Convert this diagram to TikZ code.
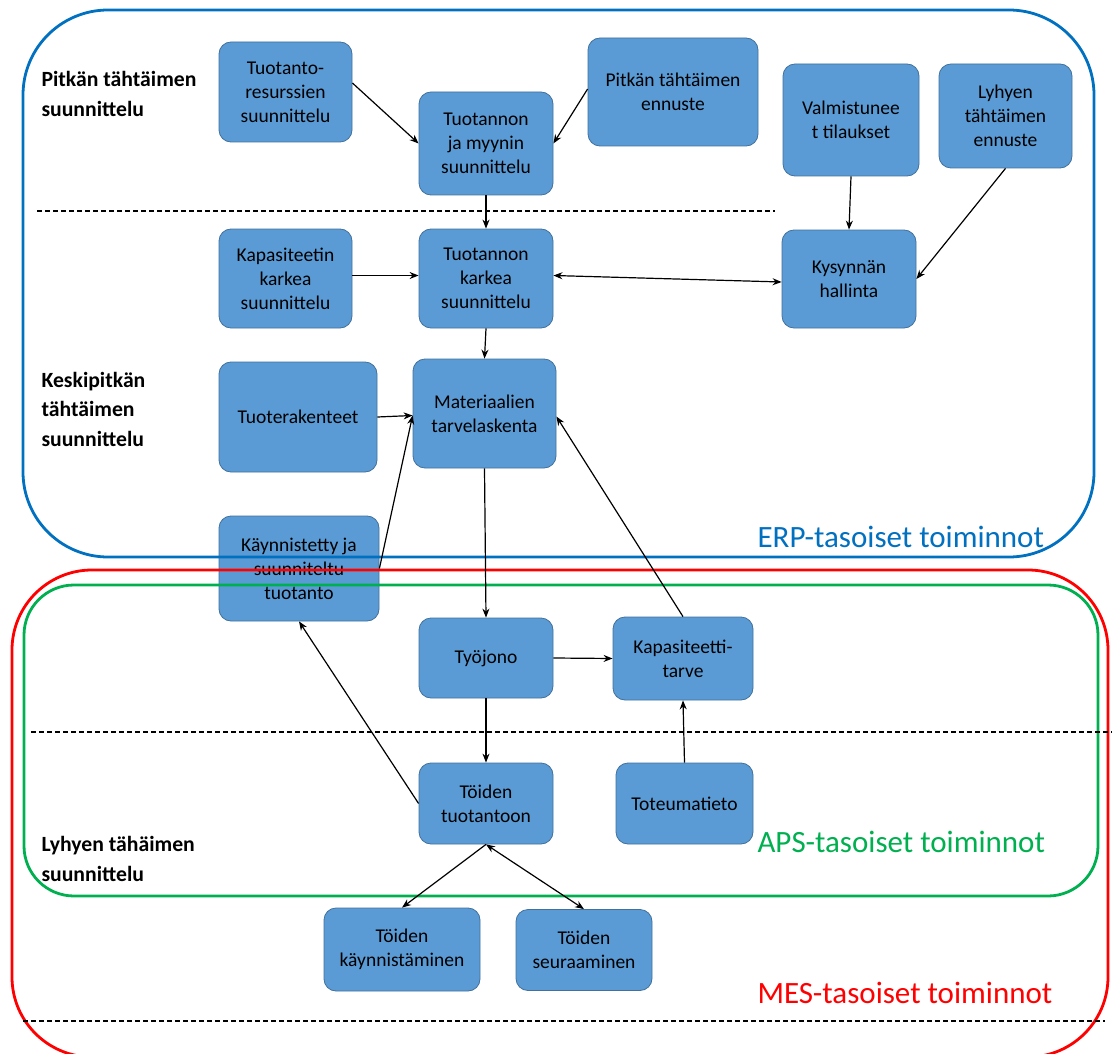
\documentclass[tikz,border=0pt]{standalone}
\usepackage{fontspec}
\setmainfont{Carlito}
\usepackage{xcolor}
\usetikzlibrary{arrows.meta}
\definecolor{boxblue}{HTML}{5B9BD5}
\definecolor{boxline}{HTML}{41719C}
\definecolor{erpblue}{HTML}{0070C0}
\definecolor{apsgreen}{HTML}{00B050}
\definecolor{mesred}{HTML}{FF0000}

\begin{document}
\begin{tikzpicture}[x=1pt,y=-1pt,
  >={Stealth[length=9pt,width=7pt]},
  box/.style={draw=boxline,line width=0.8pt,fill=boxblue,rounded corners=12pt,align=center,inner sep=2pt,
    font=\fontsize{19.5}{24}\selectfont},
  lvl/.style={anchor=west,align=left,font=\bfseries\fontsize{21.7}{29.5}\selectfont},
  frame/.style={line width=2.8pt},
  link/.style={line width=1.2pt},
  split/.style={line width=1.1pt,dash pattern=on 5pt off 3pt},
  tag/.style={anchor=west,font=\fontsize{31}{36}\selectfont}]
\useasboundingbox (0,0) rectangle (1112,1054);
\clip (0,0) rectangle (1112,1054);
\fill[white] (0,0) rectangle (1112,1054);

\node[box,minimum width=133pt,minimum height=100pt] (tuores) at (285.5,92) {Tuotanto-\\resurssien\\suunnittelu};
\node[box,minimum width=134pt,minimum height=103pt] (tuomyy) at (486,143.5) {Tuotannon\\ja myynin\\suunnittelu};
\node[box,minimum width=170pt,minimum height=108pt] (pitenn) at (673,92) {Pitkän tähtäimen\\ennuste};
\node[box,minimum width=136pt,minimum height=112pt] (valm) at (851,120) {Valmistunee\\t tilaukset};
\node[box,minimum width=133pt,minimum height=104pt] (lyhenn) at (1005.5,116) {Lyhyen\\tähtäimen\\ennuste};
\node[box,minimum width=133pt,minimum height=99pt] (kapkar) at (285.5,278.5) {Kapasiteetin\\karkea\\suunnittelu};
\node[box,minimum width=134pt,minimum height=99pt] (tuokar) at (486,278.5) {Tuotannon\\karkea\\suunnittelu};
\node[box,minimum width=134pt,minimum height=98pt] (kys) at (849,279) {Kysynnän\\hallinta};
\node[box,minimum width=158pt,minimum height=110pt] (tuoter) at (298,417) {Tuoterakenteet};
\node[box,minimum width=143pt,minimum height=109pt] (mattar) at (484.5,413.5) {Materiaalien\\tarvelaskenta};
\node[box,minimum width=160pt,minimum height=105pt] (kaysuu) at (299,568.5) {Käynnistetty ja\\suunniteltu\\tuotanto};
\node[box,minimum width=134pt,minimum height=80pt] (tyojono) at (486,658) {Työjono};
\node[box,minimum width=140pt,minimum height=83pt] (kaptar) at (683,658.5) {Kapasiteetti-\\tarve};
\node[box,minimum width=134pt,minimum height=81pt] (toituo) at (486,803.5) {Töiden\\tuotantoon};
\node[box,minimum width=137pt,minimum height=81pt] (toteu) at (684.5,803.5) {Toteumatieto};
\node[box,minimum width=156pt,minimum height=83pt] (toikay) at (402,949.5) {Töiden\\käynnistäminen};
\node[box,minimum width=136pt,minimum height=81pt] (toiseu) at (584,950) {Töiden\\seuraaminen};

\draw[frame,erpblue,rounded corners=85pt] (23,10) rectangle (1094,557);
\draw[frame,mesred,rounded corners=80pt] (12,570) rectangle (1108,1057);
\draw[frame,apsgreen,rounded corners=50pt] (24,585) rectangle (1098,896);
\draw[split] (37,211) -- (775,211);
\draw[split] (31,732) -- (1112,732);
\draw[split] (23,1021) -- (1105,1021);

\node[lvl] (pitsuu) at (38,94) {Pitkän tähtäimen\\suunnittelu};
\node[lvl] (kessuu) at (38,409) {Keskipitkän\\tähtäimen\\suunnittelu};
\node[lvl] (lyhsuu) at (38,859) {Lyhyen tähäimen\\suunnittelu};
\node[tag,erpblue] (erp) at (754,537) {ERP-tasoiset toiminnot};
\node[tag,apsgreen] (aps) at (754,842) {APS-tasoiset toiminnot};
\node[tag,mesred] (mes) at (754,993) {MES-tasoiset toiminnot};

\draw[link,->] ([yshift=9pt]tuores.east) -- (tuomyy.west);
\draw[link,->] ([yshift=3pt]pitenn.west) -- (tuomyy.east);
\draw[link,->] (tuomyy.south) -- (tuokar.north);
\draw[link,->] ([yshift=3pt]kapkar.east) -- ([yshift=3pt]tuokar.west);
\draw[link,<->] ([yshift=3pt]tuokar.east) -- ([yshift=-3pt]kys.west);
\draw[link,->] (valm.south) -- (kys.north);
\draw[link,->] (lyhenn.south) -- (kys.east);
\draw[link,->] (tuokar.south) -- (mattar.north);
\draw[link,->] (tuoter.east) -- ([yshift=-2pt]mattar.west);
\draw[link,->] (kaysuu.east) -- ([yshift=-2pt]mattar.west);
\draw[link,->] (mattar.south) -- (tyojono.north);
\draw[link,->] (kaptar.north) -- ([yshift=-3pt]mattar.east);
\draw[link,->] (tyojono.east) -- (kaptar.west);
\draw[link,->] (tyojono.south) -- (toituo.north);
\draw[link,->] (toituo.west) -- (kaysuu.south);
\draw[link,->] (toteu.north) -- (kaptar.south);
\draw[link,->] (toituo.south) -- (toikay.north);
\draw[link,<->] (toituo.south) -- (toiseu.north);
\end{tikzpicture}
\end{document}
